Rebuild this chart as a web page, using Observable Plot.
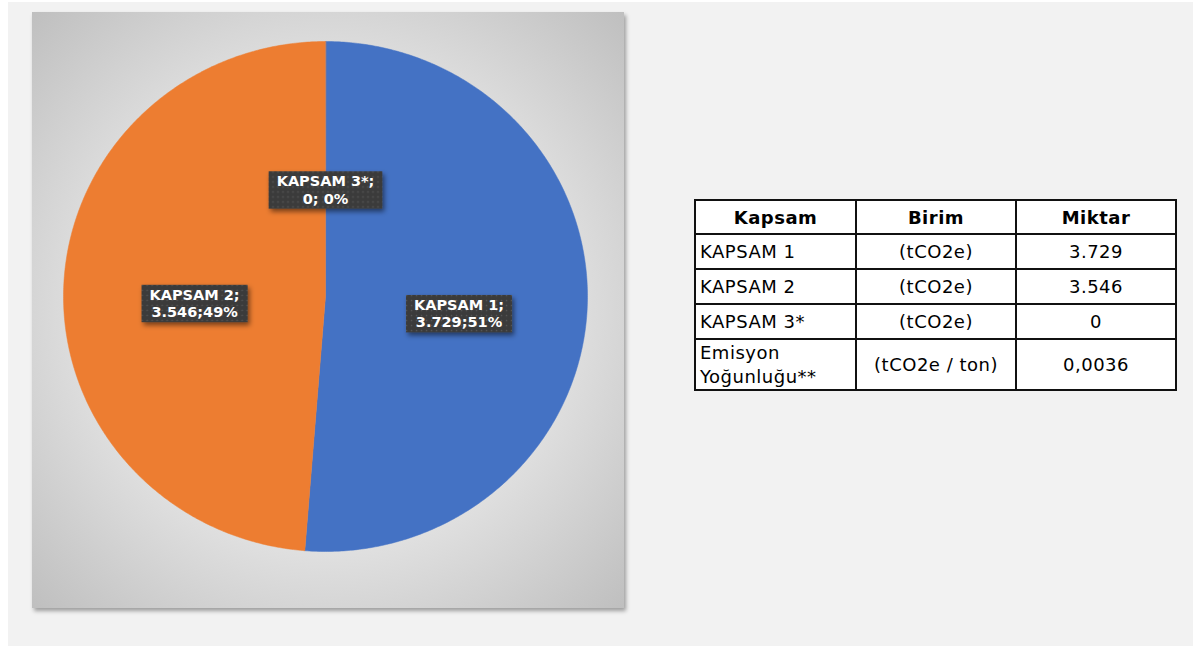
<!DOCTYPE html>
<html><head><meta charset="utf-8">
<script src="https://cdn.jsdelivr.net/npm/d3@7"></script>
<script src="https://cdn.jsdelivr.net/npm/@observablehq/plot@0.6"></script>
<style>
body{margin:0;background:#fff;width:1193px;height:646px;overflow:hidden;position:relative;font-family:"DejaVu Sans",Verdana,sans-serif}
#bg{position:absolute;left:8px;top:2px;width:1185px;height:644px;background:#f2f2f2}
#panel{position:absolute;left:32px;top:12px;width:592px;height:596px;box-shadow:2px 3px 4px rgba(0,0,0,0.35)}
#panel svg{display:block}
#tbl{position:absolute;left:694px;top:199px;width:481px;border-collapse:collapse;table-layout:fixed;font-size:18px;letter-spacing:0.5px;color:#000;background:#fff}
#tbl td,#tbl th{border:2px solid #111;padding:0 4px;line-height:21px;white-space:nowrap}
#tbl th{height:32px;font-weight:bold;text-align:center}
#tbl td{height:33px}
#tbl td.c{text-align:center}
#tbl tr.last td{height:49px}
#tbl tr.last td.two{line-height:24px}
</style></head>
<body>
<div id="bg"></div>
<div id="panel"></div>
<table id="tbl"></table>
<script>
// ---- data ----
const categories = ["KAPSAM 1", "KAPSAM 2", "KAPSAM 3*"];
const values = [3729, 3546, 0];
const sliceColors = ["#4472c4", "#ed7d31", "#a5a5a5"];
const units = ["(tCO2e)", "(tCO2e)", "(tCO2e)"];
const tableHeaders = ["Kapsam", "Birim", "Miktar"];
const intensityLabel = ["Emisyon", "Yoğunluğu**"];
const intensityUnit = "(tCO2e / ton)";
const intensityValue = 0.0036;

// ---- formatting (Turkish) ----
const tr = d3.formatLocale({decimal: ",", thousands: ".", grouping: [3], currency: ["", ""]});
const fmtInt = tr.format(",d");
const fmtDec = tr.format(".4f");

// ---- pie geometry ----
const rows = categories.map((name, i) => ({name, value: values[i], color: sliceColors[i]}));
const total = d3.sum(values);
const arcs = d3.pie().sort(null).value(d => d.value)(rows);
const poly = [];
arcs.forEach(a => {
  if (a.endAngle - a.startAngle <= 0) return;
  poly.push({name: a.data.name, x: 0, y: 0});
  const n = Math.max(2, Math.ceil((a.endAngle - a.startAngle) / (Math.PI / 360)));
  for (let k = 0; k <= n; k++) {
    const t = a.startAngle + (a.endAngle - a.startAngle) * k / n;
    poly.push({name: a.data.name, x: Math.sin(t), y: Math.cos(t)});
  }
});
// label placement (layout): radial fraction and vertical nudge
const labelPlace = {"KAPSAM 1": [0.51, -0.045], "KAPSAM 2": [0.5, -0.045], "KAPSAM 3*": [0.42, 0]};
const labels = arcs.map(a => {
  const m = (a.startAngle + a.endAngle) / 2;
  const [r, dy] = labelPlace[a.data.name];
  const pct = Math.round(a.data.value / total * 100);
  return {
    x: r * Math.sin(m), y: r * Math.cos(m) + dy,
    text: `${a.data.name};\n${fmtInt(a.data.value)};${String(pct).padStart(2, " ")}%`
  };
});

const W = 592, H = 596, cx = 293, cy = 284, rx = 262, ry = 255;
const chart = Plot.plot({
  width: W, height: H,
  margin: 0,
  style: {background: "radial-gradient(ellipse farthest-corner at 50% 50%, #ffffff 0%, #ededed 40%, #bfbfbf 100%)", overflow: "visible"},
  x: {domain: [-1, 1], range: [cx - rx, cx + rx], axis: null},
  y: {domain: [-1, 1], range: [cy + ry, cy - ry], axis: null},
  color: {domain: categories, range: sliceColors},
  marks: [
    Plot.line(poly, {x: "x", y: "y", z: "name", fill: "name", stroke: "name", strokeWidth: 0.5, curve: "linear-closed"}),
    Plot.text(labels, {x: "x", y: "y", text: "text", fill: "#ffffff", fontFamily: "DejaVu Sans, Verdana, sans-serif",
      fontWeight: "bold", fontSize: 14.5, lineHeight: 1.2, textAnchor: "middle"})
  ]
});
document.getElementById("panel").appendChild(chart);

// label boxes behind text
const ns = "http://www.w3.org/2000/svg";
const defs = document.createElementNS(ns, "defs");
defs.innerHTML = `
<pattern id="dots" width="5" height="5" patternUnits="userSpaceOnUse">
  <rect width="5" height="5" fill="#3b3b3b"/><circle cx="2.5" cy="2.5" r="0.8" fill="#585858"/>
</pattern>
<filter id="sh" x="-20%" y="-30%" width="150%" height="180%">
  <feDropShadow dx="2" dy="3" stdDeviation="2.5" flood-color="#000" flood-opacity="0.5"/>
</filter>`;
chart.insertBefore(defs, chart.firstChild);
const textGroup = chart.querySelector('g[aria-label="text"]');
const boxGroup = document.createElementNS(ns, "g");
textGroup.parentNode.insertBefore(boxGroup, textGroup);
const gt = textGroup.getAttribute("transform");
if (gt) boxGroup.setAttribute("transform", gt);
textGroup.querySelectorAll("text").forEach(t => {
  const b = t.getBBox();
  const r = document.createElementNS(ns, "rect");
  r.setAttribute("x", b.x - 8); r.setAttribute("y", b.y - 2);
  r.setAttribute("width", b.width + 16); r.setAttribute("height", b.height + 4);
  r.setAttribute("fill", "url(#dots)"); r.setAttribute("filter", "url(#sh)");
  if (t.getAttribute("transform")) r.setAttribute("transform", t.getAttribute("transform"));
  boxGroup.appendChild(r);
});

// ---- table ----
const tbl = d3.select("#tbl");
tbl.append("colgroup").selectAll("col").data([161, 160, 160]).join("col").attr("width", d => d);
tbl.append("tr").selectAll("th").data(tableHeaders).join("th").text(d => d);
categories.forEach((c, i) => {
  const r = tbl.append("tr");
  r.append("td").text(c);
  r.append("td").attr("class", "c").text(units[i]);
  r.append("td").attr("class", "c").text(fmtInt(values[i]));
});
const lr = tbl.append("tr").attr("class", "last");
lr.append("td").attr("class", "two").html(intensityLabel.join("<br>"));
lr.append("td").attr("class", "c").text(intensityUnit);
lr.append("td").attr("class", "c").text(fmtDec(intensityValue));
</script>
</body></html>
